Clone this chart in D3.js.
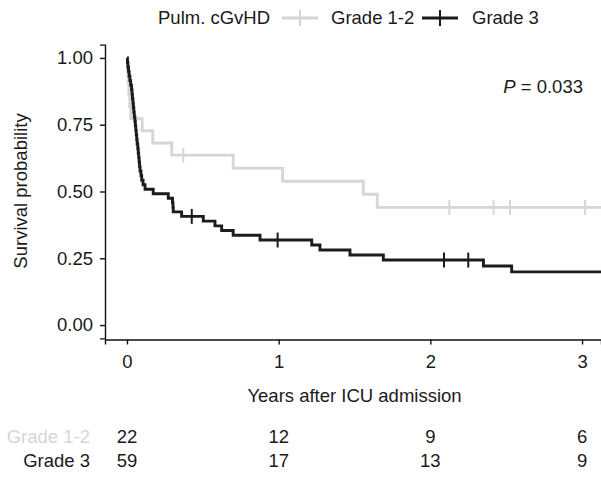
<!DOCTYPE html>
<html>
<head>
<meta charset="utf-8">
<script src="https://cdn.jsdelivr.net/npm/d3@7"></script>
<style>
  body { margin: 0; background: #fff; }
  svg text { font-family: "Liberation Sans", Arial, sans-serif; }
</style>
</head>
<body>
<svg id="chart" width="601" height="478"></svg>
<script>
// groups
const groups = ["Grade 1-2", "Grade 3"];
const groupColors = ["#d6d6d6", "#1c1c1c"];
const groupN = [22, 59];

// death / censor times (years)
const deaths12 = [0.003, 0.007, 0.012, 0.018, 0.025, 0.10, 0.17, 0.295, 0.70, 1.026, 1.558, 1.65];
const censor12 = [0.371, 2.125, 2.417, 2.525, 3.02];

const deaths3 = [0.003, 0.006, 0.010, 0.014, 0.019, 0.024, 0.030, 0.033, 0.036, 0.039,
  0.042, 0.045, 0.048, 0.052, 0.055, 0.058, 0.061, 0.064, 0.067, 0.071,
  0.074, 0.077, 0.080, 0.083, 0.086, 0.092, 0.097, 0.106, 0.119, 0.173,
  0.272, 0.300, 0.303, 0.305, 0.360, 0.503, 0.58, 0.624, 0.70, 0.877,
  1.218, 1.272, 1.47, 1.69, 2.35, 2.536];
const censor3 = [0.427, 0.993, 2.09, 2.25];

// number at risk table
const riskTimes = [0, 1, 2, 3];
const risk12 = [22, 12, 9, 6];
const risk3 = [59, 17, 13, 9];

const yTicks = [0, 0.25, 0.5, 0.75, 1];
const xTicks = [0, 1, 2, 3];
const pLabel = "0.033";

// Kaplan-Meier from the event times
function km(deaths, censors, n) {
  let ev = deaths.map(t => ({t: t, d: 1})).concat(censors.map(t => ({t: t, d: 0})));
  ev.sort((a, b) => a.t - b.t);
  let s = 1, atRisk = n;
  const steps = [{t: 0, s: 1}], marks = [];
  ev.forEach(e => {
    if (e.d) {
      s = s * (1 - 1 / atRisk);
      steps.push({t: e.t, s: s});
    } else {
      marks.push({t: e.t, s: s});
    }
    atRisk--;
  });
  return {steps, marks};
}

const curves = [km(deaths12, censor12, groupN[0]), km(deaths3, censor3, groupN[1])];

const svg = d3.select("#chart");
const fs = 18.5;

const x = d3.scaleLinear().domain([-0.145, 3.125]).range([105, 601]);
const y = d3.scaleLinear().domain([-0.05, 1.05]).range([338.4, 44.6]);
const xEnd = x.domain()[1];

// clip to the panel
svg.append("clipPath").attr("id", "clip")
  .append("rect").attr("x", 105).attr("y", 40).attr("width", 496).attr("height", 300);

const line = d3.line()
  .x(d => x(d.t)).y(d => y(d.s))
  .curve(d3.curveStepAfter);

const plot = svg.append("g").attr("clip-path", "url(#clip)");

curves.forEach((c, i) => {
  const pts = c.steps.concat([{t: xEnd, s: c.steps[c.steps.length - 1].s}]);
  plot.append("path")
    .attr("d", line(pts))
    .attr("fill", "none")
    .attr("stroke", groupColors[i])
    .attr("stroke-width", 2.9)
    .attr("stroke-linejoin", "miter");
  plot.selectAll(null).data(c.marks).join("line")
    .attr("x1", d => x(d.t)).attr("x2", d => x(d.t))
    .attr("y1", d => y(d.s) - 7.5).attr("y2", d => y(d.s) + 7.5)
    .attr("stroke", groupColors[i])
    .attr("stroke-width", 2);
});

// axes
const yAxis = svg.append("g")
  .attr("transform", "translate(105,0)")
  .call(d3.axisLeft(y).tickValues(yTicks).tickFormat(d3.format(".2f")).tickSizeOuter(0).tickSize(5).tickPadding(7));
const xAxis = svg.append("g")
  .attr("transform", "translate(0,339.5)")
  .call(d3.axisBottom(x).tickValues(xTicks).tickFormat(d3.format("d")).tickSizeOuter(0).tickSize(5).tickPadding(10));

[yAxis, xAxis].forEach(a => {
  a.select(".domain").attr("stroke", "#111").attr("stroke-width", 1.4);
  a.selectAll(".tick line").attr("stroke", "#111").attr("stroke-width", 1.4);
  a.selectAll(".tick text").attr("fill", "#1a1a1a").style("font-size", fs + "px");
});

// axis titles
svg.append("text")
  .attr("transform", "translate(27,191) rotate(-90)")
  .attr("text-anchor", "middle")
  .style("font-size", fs + "px")
  .attr("fill", "#1a1a1a")
  .text("Survival probability");

svg.append("text")
  .attr("x", x(1.5)).attr("y", 402)
  .attr("text-anchor", "middle")
  .style("font-size", fs + "px")
  .attr("fill", "#1a1a1a")
  .text("Years after ICU admission");

// p value
const pt = svg.append("text")
  .attr("x", 583).attr("y", 93)
  .attr("text-anchor", "end")
  .style("font-size", fs + "px")
  .attr("fill", "#1a1a1a");
pt.append("tspan").style("font-style", "italic").text("P");
pt.append("tspan").text(" = " + pLabel);

// legend
const leg = svg.append("g");
leg.append("text").attr("x", 158).attr("y", 24).style("font-size", fs + "px").attr("fill", "#1a1a1a").text("Pulm. cGvHD");
const keyX = [282, 422];
const labX = [331, 472];
groups.forEach((g, i) => {
  leg.append("line").attr("x1", keyX[i]).attr("x2", keyX[i] + 36).attr("y1", 18).attr("y2", 18)
    .attr("stroke", groupColors[i]).attr("stroke-width", 2.9);
  leg.append("line").attr("x1", keyX[i] + 18).attr("x2", keyX[i] + 18).attr("y1", 10).attr("y2", 26)
    .attr("stroke", groupColors[i]).attr("stroke-width", 2);
  leg.append("text").attr("x", labX[i]).attr("y", 24).style("font-size", fs + "px").attr("fill", "#1a1a1a").text(g);
});

// risk table
const rows = [risk12, risk3];
const rowY = [443, 467];
rows.forEach((r, i) => {
  svg.append("text").attr("x", 90).attr("y", rowY[i])
    .attr("text-anchor", "end").style("font-size", fs + "px")
    .attr("fill", i === 0 ? "#d6d6d6" : "#1a1a1a")
    .text(groups[i]);
  svg.selectAll(null).data(riskTimes).join("text")
    .attr("x", d => x(d)).attr("y", rowY[i])
    .attr("text-anchor", "middle").style("font-size", fs + "px")
    .attr("fill", "#1a1a1a")
    .text((d, j) => r[j]);
});
</script>
</body>
</html>
